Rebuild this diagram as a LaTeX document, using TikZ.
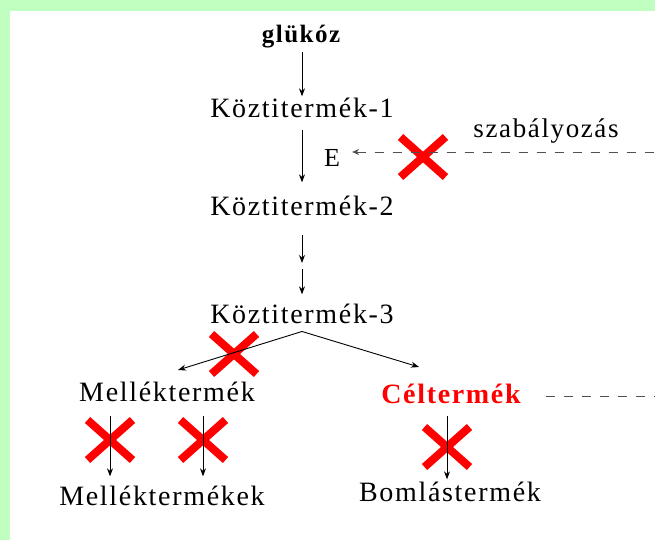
\documentclass[tikz,border=0pt]{standalone}
\usepackage{fontspec}
\setmainfont{Liberation Serif}
\newfontfamily\ritkitott[LetterSpace=6]{Liberation Serif}
\usepackage{tikz}
\usetikzlibrary{arrows.meta,shapes.misc}

\definecolor{hatterzold}{RGB}{192,255,192}
\definecolor{szaggatott}{RGB}{80,80,80}

\begin{document}
\begin{tikzpicture}[x=1pt,y=-1pt,
      nyil/.style={-{Stealth[length=8pt,width=6pt]},line width=0.9pt},
      tiltas/.style={draw=red,cross out,line width=8pt,minimum width=37pt,minimum height=32pt,inner sep=0pt},
      szoveg/.style={anchor=base,inner sep=2pt,font=\ritkitott\fontsize{28}{32}\selectfont},
      szabaly/.style={dash pattern=on 9pt off 9pt,draw=szaggatott,line width=0.9pt}]

    \fill[hatterzold] (0,0) rectangle (655,540);
    \fill[white] (10,11) rectangle (655,540);
    \useasboundingbox (0,0) rectangle (655,540);

    \node[szoveg,font=\ritkitott\bfseries\fontsize{25}{30}\selectfont] (glukoz) at (301,43) {glükóz};
    \node[szoveg] (k1) at (302,118) {Köztitermék-1};
    \node[szoveg] (k2) at (302,215) {Köztitermék-2};
    \node[szoveg] (k3) at (302,323) {Köztitermék-3};
    \node[szoveg] (mellek) at (167,401) {Melléktermék};
    \node[szoveg,text=red,font=\ritkitott\bfseries\fontsize{28}{32}\selectfont] (cel) at (451,403) {Céltermék};
    \node[szoveg] (mellekek) at (162,505) {Melléktermékek};
    \node[szoveg] (bomlas) at (450,501) {Bomlástermék};
    \node[szoveg,font=\ritkitott\fontsize{27}{31}\selectfont] (szab) at (546,138) {szabályozás};
    \node[anchor=base,inner sep=2pt,font=\fontsize{26}{30}\selectfont] (e) at (332,167) {E};

    \coordinate (kozep) at (301,266);
    \coordinate (elagazas) at ([yshift=-6pt]k3.south);
    \coordinate (bal) at (178,370);
    \coordinate (jobb) at (419,367);
    \coordinate (szel1) at (655,152);
    \coordinate (szel2) at (655,396);

    \node[tiltas] (t1) at (423,157) {};
    \node[tiltas] (t2) at (234,354) {};
    \node[tiltas] (t3) at (110,440) {};
    \node[tiltas] (t4) at (203,440) {};
    \node[tiltas] (t5) at (447,447) {};

    \draw[nyil,shorten <=1pt] (glukoz.south -| k1) -- (k1);
    \draw[nyil,shorten <=10pt,shorten >=11pt] (k1) -- (k2);
    \draw[nyil,shorten <=18pt,shorten >=3pt] (k2) -- (kozep -| k2);
    \draw[nyil,shorten <=3pt,shorten >=7pt] (kozep -| k3) -- (k3);
    \draw[nyil] (elagazas) -- (bal);
    \draw[nyil] (elagazas) -- (jobb);
    \draw[nyil,shorten <=13pt,shorten >=7pt] (mellek.south -| t3) -- (mellekek.north -| t3);
    \draw[nyil,shorten <=13pt,shorten >=7pt] (mellek.south -| t4) -- (mellekek.north -| t4);
    \draw[nyil,shorten <=11pt] (cel.south -| t5) -- (bomlas.north -| t5);
    \draw[szabaly,{Stealth[length=7pt,width=6pt]}-,shorten <=10pt] (e.east |- szel1) -- (szel1);
    \draw[szabaly,shorten <=23pt] (cel.east |- szel2) -- (szel2);
\end{tikzpicture}
\end{document}
